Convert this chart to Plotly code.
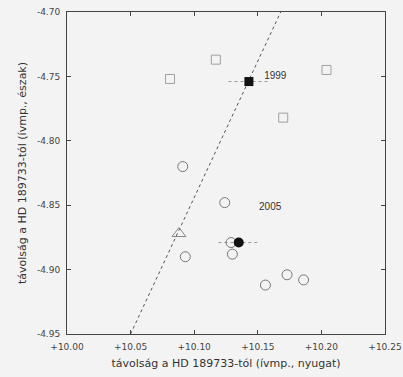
import plotly.graph_objects as go

# open squares
sq_x = [10.081, 10.117, 10.204, 10.170]
sq_y = [-4.752, -4.737, -4.745, -4.782]
# open circles
ci_x = [10.091, 10.124, 10.093, 10.129, 10.130, 10.156, 10.173, 10.186]
ci_y = [-4.820, -4.848, -4.890, -4.879, -4.888, -4.912, -4.904, -4.908]
# triangle
tr_x = [10.088]
tr_y = [-4.872]
# filled points (1999 square, 2005 circle)
f99_x = [10.143]
f99_y = [-4.754]
f05_x = [10.135]
f05_y = [-4.879]
err_x = 0.016
# dashed fit line endpoints
line_x = [10.05, 10.168]
line_y = [-4.95, -4.70]
# labels
lab_text = ["1999", "2005"]
lab_x = [10.155, 10.151]
lab_y = [-4.750, -4.852]

xticks = [10.00, 10.05, 10.10, 10.15, 10.20, 10.25]
xtick_text = ["+10.00", "+10.05", "+10.10", "+10.15", "+10.20", "+10.25"]
yticks = [-4.70, -4.75, -4.80, -4.85, -4.90, -4.95]
ytick_text = ["-4.70", "-4.75", "-4.80", "-4.85", "-4.90", "-4.95"]

BG = "#f3f3f3"

fig = go.Figure()
fig.add_trace(go.Scatter(x=line_x, y=line_y, mode="lines",
                         line=dict(color="#555555", width=1, dash="dot")))
for fx, fy in [(f99_x, f99_y), (f05_x, f05_y)]:
    fig.add_trace(go.Scatter(x=[fx[0] - err_x, fx[0] + err_x], y=[fy[0], fy[0]], mode="lines",
                             line=dict(color="#999999", width=1, dash="dot")))
fig.add_trace(go.Scatter(x=sq_x, y=sq_y, mode="markers",
                         marker=dict(symbol="square-open", size=9, color="#a0a0a0", line=dict(width=1))))
fig.add_trace(go.Scatter(x=ci_x, y=ci_y, mode="markers",
                         marker=dict(symbol="circle-open", size=10, color="#777777", line=dict(width=1))))
fig.add_trace(go.Scatter(x=tr_x, y=tr_y, mode="markers",
                         marker=dict(symbol="triangle-up-open", size=12, color="#888888", line=dict(width=1))))
fig.add_trace(go.Scatter(x=f99_x, y=f99_y, mode="markers",
                         marker=dict(symbol="square", size=9, color="#111111")))
fig.add_trace(go.Scatter(x=f05_x, y=f05_y, mode="markers",
                         marker=dict(symbol="circle", size=10, color="#111111")))
fig.add_trace(go.Scatter(x=lab_x, y=lab_y, mode="text", text=lab_text,
                         textposition="middle right",
                         textfont=dict(family="Liberation Sans", size=10, color="#333333")))

axis_common = dict(showgrid=False, zeroline=False, showline=True, linecolor="#444444", linewidth=1,
                   mirror="ticks", ticks="inside", ticklen=4, tickcolor="#444444",
                   automargin=False,
                   tickfont=dict(family="DejaVu Sans", size=9, color="#444444"))
fig.update_layout(
    width=403, height=377,
    margin=dict(l=67, r=18, t=12, b=43, autoexpand=False),
    paper_bgcolor=BG, plot_bgcolor=BG,
    showlegend=False,
    xaxis=dict(range=[10.0, 10.25], tickvals=xticks, ticktext=xtick_text,
               ticklabelstandoff=4,
               title=dict(text="távolság a HD 189733-tól (ívmp., nyugat)", standoff=8,
                          font=dict(family="DejaVu Sans", size=11, color="#333333")),
               **axis_common),
    yaxis=dict(range=[-4.95, -4.70], tickvals=yticks, ticktext=ytick_text,
               ticklabelstandoff=4,
               title=dict(text="távolság a HD 189733-tól (ívmp., észak)", standoff=8,
                          font=dict(family="DejaVu Sans", size=11, color="#333333")),
               **axis_common),
)
fig.write_html("out.html", config={"displayModeBar": False},
               post_script="document.body.style.margin='0';document.body.style.background='%s';" % BG)
